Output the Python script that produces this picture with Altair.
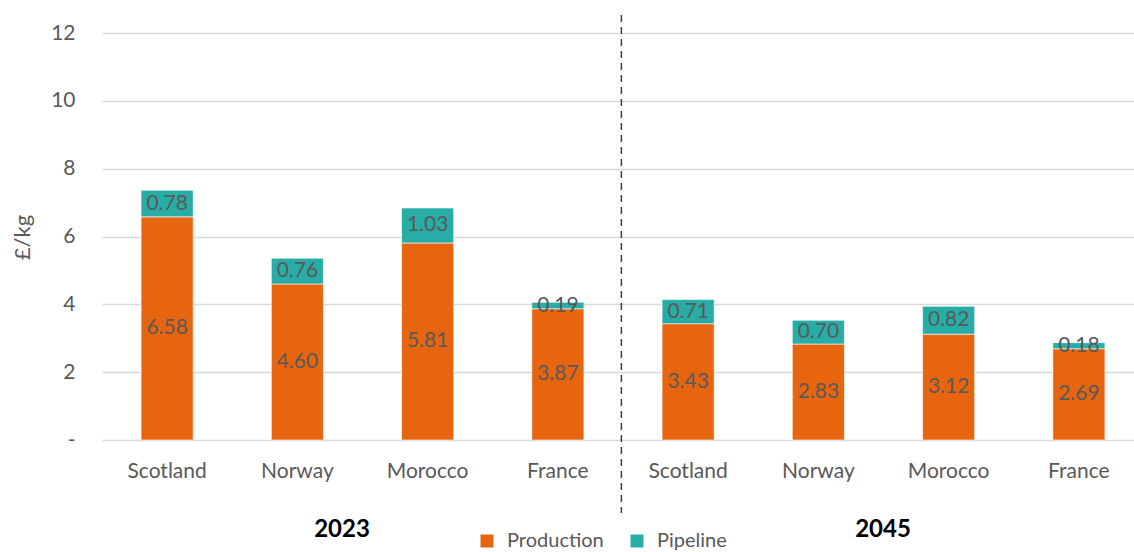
import altair as alt
import pandas as pd

countries = ["Scotland", "Norway", "Morocco", "France"]
years = ["2023", "2045"]
production = [6.58, 4.60, 5.81, 3.87, 3.43, 2.83, 3.12, 2.69]
pipeline = [0.78, 0.76, 1.03, 0.19, 0.71, 0.70, 0.82, 0.18]
series = ["Production", "Pipeline"]
colors = ["#E8650F", "#28ADA6"]
y_ticks = [0, 2, 4, 6, 8, 10, 12]

keys = [f"{c} {y}" for y in years for c in countries]
rows = []
for k, p, q in zip(keys, production, pipeline):
    rows.append({"key": k, "series": "Production", "value": p, "order": 0})
    rows.append({"key": k, "series": "Pipeline", "value": q, "order": 1})
df = pd.DataFrame(rows)

FONT = "Lato"
GREY = "#595959"

x_enc = alt.X(
    "key:N",
    sort=keys,
    title=None,
    scale=alt.Scale(range=[0, 1042], paddingInner=0.6, paddingOuter=0.3),
    axis=alt.Axis(
        labelExpr="split(datum.label, ' ')[0]",
        labelAngle=0,
        labelFontSize=21,
        labelColor=GREY,
        labelFont=FONT,
        labelPadding=20,
        ticks=False,
        domain=False,
    ),
)

base = alt.Chart(df).transform_stack(
    stack="value",
    groupby=["key"],
    as_=["y0", "y1"],
    sort=[alt.SortField("order", order="ascending")],
).transform_calculate(mid="(datum.y0 + datum.y1) / 2")

bars = base.mark_bar(stroke="white", strokeWidth=0.6).encode(
    x=x_enc,
    y=alt.Y(
        "y0:Q",
        scale=alt.Scale(domain=[0, 12]),
        title="£/kg",
        axis=alt.Axis(
            values=y_ticks,
            labelExpr="datum.value == 0 ? '-' : datum.label",
            labelFontSize=21,
            labelColor=GREY,
            labelFont=FONT,
            labelPadding=27,
            ticks=False,
            domain=False,
            gridColor="#D9D9D9",
            gridWidth=1.5,
            titleFont=FONT,
            titleFontSize=22,
            titleFontWeight="normal",
            titleColor=GREY,
            titleAngle=-90,
            titleX=-80,
            titleY=204,
            titleAlign="center",
            titleBaseline="middle",
        ),
    ),
    y2="y1:Q",
    color=alt.Color(
        "series:N",
        scale=alt.Scale(domain=series, range=colors),
        sort=series,
        legend=alt.Legend(
            title=None,
            orient="none",
            legendX=375,
            legendY=498,
            direction="horizontal",
            symbolType="square",
            symbolSize=169,
            symbolStrokeWidth=0,
            labelFontSize=20,
            labelFont=FONT,
            labelColor=GREY,
            labelOffset=10,
            columnPadding=23,
        ),
    ),
    order=alt.Order("order:Q"),
)

labels = base.mark_text(fontSize=21, font=FONT, color=GREY, baseline="middle").encode(
    x=alt.X("key:N", sort=keys),
    y=alt.Y("mid:Q"),
    text=alt.Text("value:Q", format=".2f"),
)

rule_df = pd.DataFrame({"key": ["France 2023"]})
divider = alt.Chart(rule_df).mark_rule(
    strokeDash=[7, 5], color="#404040", strokeWidth=1.5, xOffset=63.5
).encode(
    x=alt.X("key:N", sort=keys),
    y=alt.value(-18),
    y2=alt.value(480),
)

g1 = alt.Chart(pd.DataFrame({"label": [years[0]]})).mark_text(
    fontSize=24, font=FONT, fontWeight="bold", color="black", baseline="alphabetic"
).encode(x=alt.value(240), y=alt.value(504), text="label:N")
g2 = alt.Chart(pd.DataFrame({"label": [years[1]]})).mark_text(
    fontSize=24, font=FONT, fontWeight="bold", color="black", baseline="alphabetic"
).encode(x=alt.value(781), y=alt.value(504), text="label:N")

chart = alt.layer(bars, labels, divider, g1, g2).properties(
    width=1032,
    height=407,
    padding={"left": 102, "top": 33, "right": 0, "bottom": 112},
    autosize=alt.AutoSizeParams(type="none"),
    background="white",
).configure_view(stroke=None)

chart.save("out.html", embed_options={"renderer": "svg", "actions": False})
